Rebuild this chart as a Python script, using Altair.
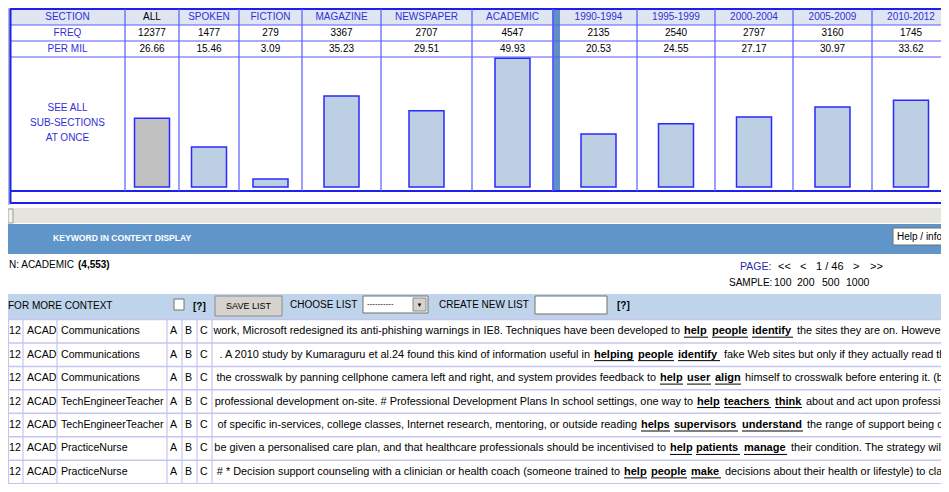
import altair as alt
import pandas as pd

# ------------------------------------------------------------------ data
sections = ["ALL", "SPOKEN", "FICTION", "MAGAZINE", "NEWSPAPER", "ACADEMIC",
            "1990-1994", "1995-1999", "2000-2004", "2005-2009", "2010-2012"]
freq = [12377, 1477, 279, 3367, 2707, 4547, 2135, 2540, 2797, 3160, 1745]
per_mil = [26.66, 15.46, 3.09, 35.23, 29.51, 49.93, 20.53, 24.55, 27.17, 30.97, 33.62]
row_labels = ["SECTION", "FREQ", "PER MIL"]
see_all = ["SEE ALL", "SUB-SECTIONS", "AT ONCE"]

kwic_num = ["12"] * 7
kwic_genre = ["ACAD"] * 7
kwic_source = ["Communications", "Communications", "Communications",
               "TechEngineerTeacher", "TechEngineerTeacher", "PracticeNurse", "PracticeNurse"]
kwic_left = [
    "work, Microsoft redesigned its anti-phishing warnings in IE8. Techniques have been developed to",
    ". A 2010 study by Kumaraguru et al.24 found this kind of information useful in",
    "the crosswalk by panning cellphone camera left and right, and system provides feedback to",
    "professional development on-site. # Professional Development Plans In school settings, one way to",
    "of specific in-services, college classes, Internet research, mentoring, or outside reading",
    "be given a personalised care plan, and that healthcare professionals should be incentivised to",
    "# * Decision support counseling with a clinician or health coach (someone trained to",
]
kwic_key = [
    ["help", "people", "identify"],
    ["helping", "people", "identify"],
    ["help", "user", "align"],
    ["help", "teachers", "think"],
    ["helps", "supervisors", "understand"],
    ["help", "patients", "manage"],
    ["help", "people", "make"],
]
kwic_right = [
    "the sites they are on. However,",
    "fake Web sites but only if they actually read th",
    "himself to crosswalk before entering it. (b)",
    "about and act upon profession",
    "the range of support being co",
    "their condition. The strategy will",
    "decisions about their health or lifestyle) to clar",
]
header_title = "KEYWORD IN CONTEXT DISPLAY"
help_label = "Help / inform"
search_label = "N: ACADEMIC"
search_count = "(4,553)"
page_label = "PAGE:"
page_nav = ["<<", "<", "1 / 46", ">", ">>"]
sample_label = "SAMPLE:"
sample_sizes = ["100", "200", "500", "1000"]

# ------------------------------------------------------------------ layout (page pixels)
W, H = 933, 476
OX, OY = 8, 8
FONT = "Liberation Sans"
BLUE_TXT = "#3030d8"
GRID = "#5a5aff"
GRID_DARK = "#1e1ef0"
data_cols = [(125, 179), (179, 239), (239, 302), (302, 381), (381, 472), (472, 553),
             (560, 637), (637, 715), (715, 793), (793, 872), (872, 950)]
BAR_W = 35
BAR_BASE, BAR_TOP_AT_50 = 187, 58
kw_x = [[684, 712, 752], [594, 638, 678], [660, 687, 715], [697, 724, 775],
        [641, 674, 742], [670, 696, 744], [624, 651, 691]]
kw_x2 = [[708, 748, 793], [634, 674, 720], [683, 711, 741], [720, 771, 802],
         [670, 738, 803], [692, 740, 787], [647, 687, 721]]
right_x = [797, 724, 745, 806, 807, 791, 725]
page_nav_x = [778, 800, 816, 853, 870]
sample_x = [774, 797, 822, 846]
ROW0, ROWH = 319.5, 23.45
CTX = 10.9

XS = alt.Scale(domain=[OX, OX + W], nice=False, zero=False)
YS = alt.Scale(domain=[OY, OY + H], reverse=True, nice=False, zero=False)


def X(f):
    return alt.X(f"{f}:Q", scale=XS, axis=None)


def Y(f):
    return alt.Y(f"{f}:Q", scale=YS, axis=None)


def rects(rows):
    df = pd.DataFrame(rows, columns=["x", "x2", "y", "y2", "fill", "stroke", "sw"])
    return alt.Chart(df).mark_rect().encode(
        x=X("x"), x2="x2", y=Y("y"), y2="y2",
        fill=alt.Fill("fill:N", scale=None),
        stroke=alt.Stroke("stroke:N", scale=None),
        strokeWidth=alt.StrokeWidth("sw:Q", scale=None),
    )


def rules(rows):
    df = pd.DataFrame(rows, columns=["x", "x2", "y", "y2", "color", "sw"])
    return alt.Chart(df).mark_rule().encode(
        x=X("x"), x2="x2", y=Y("y"), y2="y2",
        color=alt.Color("color:N", scale=None),
        strokeWidth=alt.StrokeWidth("sw:Q", scale=None),
    )


def texts(rows, align="left", weight="normal"):
    df = pd.DataFrame(rows, columns=["x", "y", "t", "color", "size"])
    return alt.Chart(df).mark_text(align=align, baseline="middle", font=FONT, fontWeight=weight).encode(
        x=X("x"), y=Y("y"), text="t:N",
        color=alt.Color("color:N", scale=None),
        size=alt.Size("size:Q", scale=None),
    )


layers = []

# ---------------- top frequency table
layers.append(rects([
    (8, 10, 8, 205, "#a9b9d9", "#a9b9d9", 0),
    (10, 950, 9, 25, "#dfe6f2", "#dfe6f2", 0),
    (553, 560, 9, 191, "#5f90c9", "#5f90c9", 0),
]))

hl = [(10, 950, y, y, GRID, 1.2) for y in (25, 41, 57)]
hl += [(10, 950, 9, 9, GRID_DARK, 2), (10, 950, 191, 191, GRID_DARK, 2), (10, 950, 203, 203, GRID_DARK, 2)]
vl = [(10.5, 10.5, 9, 203, GRID_DARK, 2), (125, 125, 9, 191, GRID, 1.2)]
for a, b in data_cols[:-1]:
    vl.append((b, b, 9, 191, GRID, 1.2))
vl.append((553, 553, 9, 191, GRID, 1.5))
layers.append(rules(hl + vl))

# bars: per-million values through their own linear scale
bar_df = pd.DataFrame({
    "section": sections,
    "per_mil": per_mil,
    "bx": [(a + b) / 2 - BAR_W / 2 for a, b in data_cols],
    "bx2": [(a + b) / 2 + BAR_W / 2 for a, b in data_cols],
    "fill": ["#c0c0c0"] + ["#bccfe3"] * (len(sections) - 1),
})
layers.append(alt.Chart(bar_df).mark_rect(stroke="#2a2aff", strokeWidth=1.5).encode(
    x=X("bx"), x2="bx2",
    y=alt.Y("per_mil:Q", axis=None,
            scale=alt.Scale(domain=[0, 50], range=[BAR_BASE - OY, BAR_TOP_AT_50 - OY], nice=False)),
    y2=alt.datum(0),
    fill=alt.Fill("fill:N", scale=None),
))

tt = [(67.5, 17, row_labels[0], BLUE_TXT, 10), (67.5, 33, row_labels[1], BLUE_TXT, 10),
      (67.5, 49, row_labels[2], BLUE_TXT, 10)]
for i, (a, b) in enumerate(data_cols):
    c = (a + b) / 2
    tt.append((c, 17, sections[i], "#000000" if i == 0 else BLUE_TXT, 10))
    tt.append((c, 33, str(freq[i]), "#000000", 10))
    tt.append((c, 49, f"{per_mil[i]:.2f}", "#000000", 10))
for j, s in enumerate(see_all):
    tt.append((67.5, 108 + 15 * j, s, BLUE_TXT, 10))
layers.append(texts(tt, align="center"))

# ---------------- scrollbar + KWIC header
layers.append(rects([
    (10, 950, 208, 223, "#e6e4de", "#e6e4de", 0),
    (8, 13, 209, 223, "#f2f1ec", "#9a9a9a", 1),
    (8, 950, 224, 254, "#5f95c9", "#5f95c9", 0),
    (893, 952, 228, 245, "#ffffff", "#6f6f6f", 1),
    (8, 950, 294, 319, "#bfd4ea", "#bfd4ea", 0),
    (174, 184, 299, 310, "#ffffff", "#707070", 1),
    (215, 282, 296, 316, "#d6d3ce", "#8a8a8a", 1),
    (363, 428, 296, 313, "#ffffff", "#707070", 1),
    (413, 426, 298, 311, "#d6d3ce", "#8a8a8a", 1),
    (535, 607, 296, 314, "#ffffff", "#707070", 1),
]))
layers.append(texts([(53, 238, header_title, "#ffffff", 8.6)], weight="bold"))
misc = [
    (897, 237, help_label, "#000000", 10),
    (9, 265, search_label, "#000000", 10),
    (740, 267, page_label, "#2b2ba6", 10.5),
    (729, 283, sample_label, "#000000", 10),
    (8, 306, "FOR MORE CONTEXT", "#000000", 10),
    (290, 305, "CHOOSE LIST", "#000000", 10),
    (367, 304, "----------", "#000000", 8),
    (439, 305, "CREATE NEW LIST", "#000000", 10),
]
misc += [(x, 267, t, "#000000", 11) for x, t in zip(page_nav_x, page_nav)]
misc += [(x, 283, t, "#000000", 10.5) for x, t in zip(sample_x, sample_sizes)]
layers.append(texts(misc))
layers.append(texts([
    (78, 265, search_count, "#000000", 10),
    (193, 307, "[?]", "#000000", 10),
    (617, 306, "[?]", "#000000", 10),
], weight="bold"))
layers.append(texts([
    (248.5, 306, "SAVE LIST", "#000000", 9),
    (419.5, 305, "▼", "#000000", 6),
], align="center"))

# ---------------- KWIC rows
lines = [(8, 950, ROW0 + ROWH * i, ROW0 + ROWH * i, "#c5c5f2", 1.5) for i in range(8)]
lines += [(x, x, ROW0, 490, "#c5c5f2", 1.2) for x in (8.5, 23, 57, 167, 182, 197, 212)]
layers.append(rules(lines))

plain, bold, left_ctx, ulines = [], [], [], []
for i in range(len(kwic_source)):
    yc = ROW0 + ROWH * i + 11.7
    plain += [(9, yc, kwic_num[i], "#000000", 10.6), (27, yc, kwic_genre[i], "#000000", 10.6),
              (61, yc, kwic_source[i], "#000000", 10.6), (170, yc, "A", "#000000", 10.6),
              (185, yc, "B", "#000000", 10.6), (200, yc, "C", "#000000", 10.6),
              (right_x[i], yc, kwic_right[i], "#000000", CTX)]
    left_ctx.append((kw_x[i][0] - 4, yc, kwic_left[i], "#000000", CTX))
    for k in range(3):
        bold.append((kw_x[i][k], yc, kwic_key[i][k], "#000000", 11))
        ulines.append((kw_x[i][k], kw_x2[i][k], yc + 6, yc + 6, "#000000", 1))
layers.append(texts(plain))
layers.append(texts(left_ctx, align="right"))
layers.append(texts(bold, weight="bold"))
layers.append(rules(ulines))

chart = alt.layer(*layers).resolve_scale(y="independent").properties(
    width=W, height=H, padding=0, autosize=alt.AutoSizeParams(type="none"),
    background="#ffffff",
).configure_view(stroke=None)

chart.save("out.html", embed_options={"renderer": "svg", "actions": False})
